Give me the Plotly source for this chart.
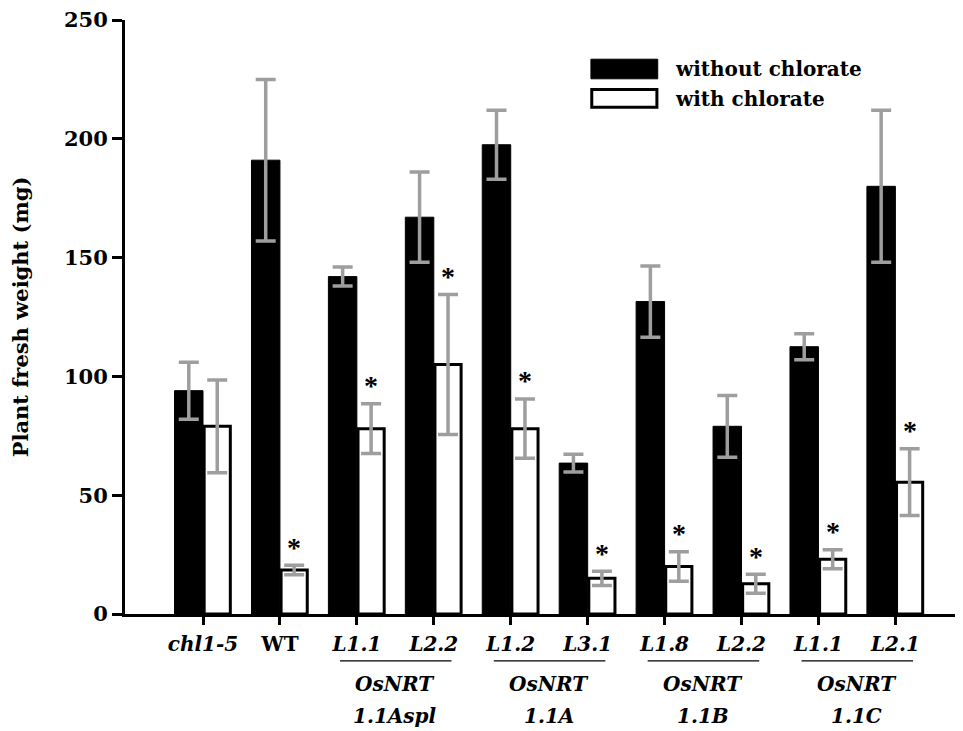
import plotly.graph_objects as go

# ---- data ----
tick_labels = ["<i>chl1-5</i>", "WT", "<i>L1.1</i>", "<i>L2.2</i>", "<i>L1.2</i>",
               "<i>L3.1</i>", "<i>L1.8</i>", "<i>L2.2</i>", "<i>L1.1</i>", "<i>L2.1</i>"]
without_chlorate = [94, 191, 142, 167, 197.5, 63.5, 131.5, 79, 112.5, 180]
without_err = [12, 34, 4, 19, 14.5, 3.7, 15, 13, 5.5, 32]
with_chlorate = [79, 18.5, 78, 105, 78, 15, 20, 12.7, 23, 55.5]
with_err = [19.5, 2, 10.5, 29.5, 12.5, 3, 6.2, 4, 4, 14]
significant = [False, True, True, True, True, True, True, True, True, True]
groups = [("OsNRT", "1.1Aspl", 2, 3), ("OsNRT", "1.1A", 4, 5),
          ("OsNRT", "1.1B", 6, 7), ("OsNRT", "1.1C", 8, 9)]
legend_names = ["without chlorate", "with chlorate"]

x = list(range(len(tick_labels)))
FONT = "DejaVu Serif"
ERR_COLOR = "#9e9e9e"
BW = 0.37

fig = go.Figure()
fig.add_trace(go.Bar(
    x=x, y=without_chlorate, name=legend_names[0], offset=-BW, width=BW,
    marker=dict(color="black", line=dict(color="black", width=1)),
    error_y=dict(type="data", array=without_err, color=ERR_COLOR, thickness=3.5, width=10),
    showlegend=False))
fig.add_trace(go.Bar(
    x=x, y=with_chlorate, name=legend_names[1], offset=0.015, width=BW - 0.03,
    marker=dict(color="white", line=dict(color="black", width=3)),
    error_y=dict(type="data", array=with_err, color=ERR_COLOR, thickness=3.5, width=10),
    showlegend=False))

annotations = []
for i, s in enumerate(significant):
    if s:
        annotations.append(dict(
            x=i + BW / 2, y=with_chlorate[i] + with_err[i], xref="x", yref="y",
            text="<b>*</b>", showarrow=False, yanchor="middle", yshift=18,
            font=dict(family="Liberation Serif", size=28, color="black")))

shapes = []
for top, bottom, start, end in groups:
    shapes.append(dict(type="line", xref="x", yref="paper",
                       x0=start - 0.22, x1=end + 0.23, y0=-0.079, y1=-0.079,
                       line=dict(color="black", width=1.2)))
    annotations.append(dict(x=(start + end) / 2, y=-0.118, xref="x", yref="paper",
                            text="<b><i>%s</i></b>" % top, showarrow=False,
                            yanchor="middle", font=dict(family=FONT, size=20, color="black")))
    annotations.append(dict(x=(start + end) / 2, y=-0.1717, xref="x", yref="paper",
                            text="<b><i>%s</i></b>" % bottom, showarrow=False,
                            yanchor="middle", font=dict(family=FONT, size=20, color="black")))

# legend drawn as boxes + text
shapes.append(dict(type="rect", xref="paper", yref="paper", x0=0.558, x1=0.638,
                   y0=0.901, y1=0.934, fillcolor="black", line=dict(color="black", width=1)))
shapes.append(dict(type="rect", xref="paper", yref="paper", x0=0.559, x1=0.637,
                   y0=0.853, y1=0.883, fillcolor="white", line=dict(color="black", width=3)))
annotations.append(dict(x=0.656, y=0.9175, xref="paper", yref="paper", text="<b>%s</b>" % legend_names[0],
                        showarrow=False, xanchor="left", yanchor="middle",
                        font=dict(family=FONT, size=20, color="black")))
annotations.append(dict(x=0.656, y=0.867, xref="paper", yref="paper", text="<b>%s</b>" % legend_names[1],
                        showarrow=False, xanchor="left", yanchor="middle",
                        font=dict(family=FONT, size=20, color="black")))

# page body adds an 8px offset, so the figure is 8px smaller and margins shifted
fig.update_layout(
    width=955, height=723,
    margin=dict(l=117, r=3, t=12, b=117),
    paper_bgcolor="white", plot_bgcolor="white",
    barmode="overlay",
    shapes=shapes, annotations=annotations,
    font=dict(family=FONT, color="black"),
    xaxis=dict(range=[-1.014, 9.84], tickvals=x, ticktext=tick_labels,
               ticks="outside", ticklen=8, tickwidth=2.5, tickcolor="black",
               showline=True, linecolor="black", linewidth=3, showgrid=False,
               zeroline=False, ticklabelstandoff=2, automargin=False,
               tickfont=dict(family=FONT, size=20, color="black", weight="bold")),
    yaxis=dict(range=[0, 250], tickvals=[0, 50, 100, 150, 200, 250],
               ticks="outside", ticklen=10, tickwidth=2.5, tickcolor="black",
               showline=True, linecolor="black", linewidth=3, showgrid=False,
               zeroline=False, ticklabelstandoff=0, automargin=False,
               ticklabeloverflow="allow",
               tickfont=dict(family=FONT, size=21, color="black", weight="bold"),
               title=dict(text="<b>Plant fresh weight (mg)</b>", standoff=30,
                          font=dict(family=FONT, size=21, color="black"))),
)

fig.write_html("out.html")
